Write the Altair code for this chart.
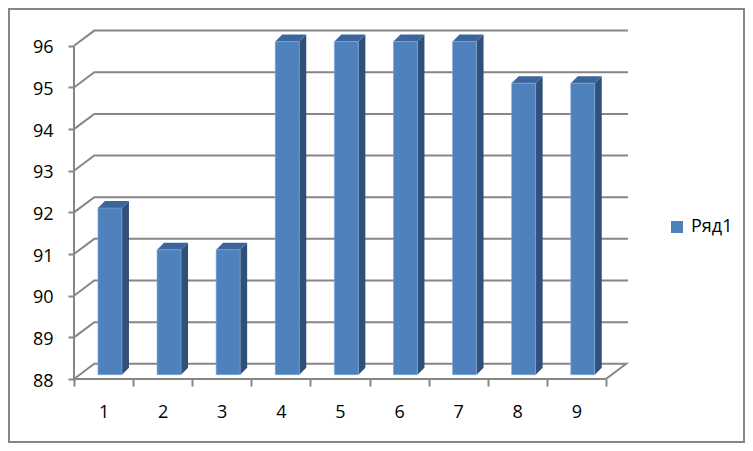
import altair as alt
import pandas as pd

categories = [1, 2, 3, 4, 5, 6, 7, 8, 9]
values = [92, 91, 91, 96, 96, 96, 96, 95, 95]
y_ticks = [88, 89, 90, 91, 92, 93, 94, 95, 96]
series_name = "Ряд1"

BLUE, SIDE, TOP, GREY = "#4F81BD", "#2F5079", "#3B659B", "#868686"
FONT = "Open Sans"

# pixel-per-unit geometry of the pseudo 3-D projection
PX, PY = 59.1, 41.65
W, H = 554, 349
x0, y0 = 0.5, 88
xn = 9.5
xdom = [x0, x0 + W / PX]
ydom = [y0, y0 + H / PY]
DXB, DYB = 20.3 / PX, 15.2 / PY      # back wall depth
OX, OY = 6.4 / PX, 4.3 / PY          # bar front offset from the axis plane
HALF = 12 / PX                       # half bar width
SX, SY = 7 / PX, 7 / PY              # bar depth

xs = alt.Scale(domain=xdom, nice=False, zero=False)
ys = alt.Scale(domain=ydom, nice=False, zero=False)

grid = []
for v in y_ticks[1:]:
    for order, (x, y) in enumerate([(x0, v), (x0 + DXB, v + DYB), (xdom[1], v + DYB)]):
        grid.append(dict(path=f"g{v}", o=order, x=x, y=y))
floor = [(x0, y0), (x0 + DXB, y0 + DYB), (xn + DXB, y0 + DYB), (xn, y0), (x0, y0)]
for order, (x, y) in enumerate(floor):
    grid.append(dict(path="floor", o=order, x=x, y=y))
for order, (x, y) in enumerate([(x0, y0), (x0, y_ticks[-1])]):
    grid.append(dict(path="wall", o=order, x=x, y=y))
grid = pd.DataFrame(grid)

front, side, top = [], [], []
for c, v in zip(categories, values):
    l, r = c + OX - HALF, c + OX + HALF
    b, t = y0 + OY, v + OY
    front.append(dict(x=l, x2=r, y=b, y2=t, s=series_name))
    side += [dict(c=c, x=r, y=t, y2=b), dict(c=c, x=r + SX, y=t + SY, y2=b + SY)]
    top += [dict(c=c, y=t, x=l, x2=r), dict(c=c, y=t + SY, x=l + SX, x2=r + SX)]
front, side, top = map(pd.DataFrame, (front, side, top))

y_axis = alt.Axis(values=y_ticks, domain=False, grid=False, title=None, tickSize=6,
                  tickColor=GREY, tickWidth=2, labelFont=FONT, labelFontSize=18,
                  labelColor="black", labelPadding=15, labelOffset=2, format="d")
x_ticks_axis = alt.Axis(values=[i + 0.5 for i in range(10)], domain=False, grid=False, title=None,
                        orient="bottom", labels=False, tickSize=7, tickColor=GREY, tickWidth=2)
x_label_axis = alt.Axis(values=categories, domain=False, grid=False, title=None, ticks=False,
                        orient="bottom", labelFont=FONT, labelFontSize=18, labelColor="black",
                        labelPadding=24, format="d")

lines = alt.Chart(grid).mark_line(color=GREY, strokeWidth=2, strokeJoin="miter").encode(
    x=alt.X("x:Q", scale=xs, axis=x_ticks_axis),
    y=alt.Y("y:Q", scale=ys, axis=y_axis),
    detail="path:N", order="o:Q")

side_l = alt.Chart(side).mark_area(color=SIDE, opacity=1).encode(
    x=alt.X("x:Q", scale=xs, axis=None),
    y=alt.Y("y:Q", scale=ys, axis=y_axis), y2="y2:Q", detail="c:N")

top_l = alt.Chart(top).mark_area(color=TOP, orient="horizontal", opacity=1).encode(
    y=alt.Y("y:Q", scale=ys, axis=y_axis),
    x=alt.X("x:Q", scale=xs, axis=None), x2="x2:Q", detail="c:N")

front_l = alt.Chart(front).mark_rect(stroke="#7FA8DA", strokeWidth=0.6).encode(
    x=alt.X("x:Q", scale=xs, axis=x_label_axis), x2="x2:Q",
    y=alt.Y("y:Q", scale=ys, axis=y_axis), y2="y2:Q",
    fill=alt.Fill("s:N", scale=alt.Scale(domain=[series_name], range=[BLUE]),
                  legend=alt.Legend(title=None, orient="none", legendX=594, legendY=188,
                                    padding=0, symbolType="square", symbolSize=144,
                                    symbolStrokeWidth=0, labelFont=FONT, labelFontSize=18,
                                    labelColor="black", labelOffset=5)))

frame = alt.Chart(alt.Data(values=[{"a": 1}])).mark_rect(
    fill="transparent", stroke=GREY, strokeWidth=2).encode(
    x=alt.value(-65), x2=alt.value(670), y=alt.value(-21), y2=alt.value(412))

chart = alt.layer(lines, side_l, top_l, front_l, frame).resolve_axis(x="independent").properties(
    width=W, height=H, background="white",
    autosize=alt.AutoSizeParams(type="none"),
    padding={"left": 66, "top": 22, "right": 117, "bottom": 64},
).configure_view(stroke=None)

chart.save("out.html", embed_options={"renderer": "svg", "actions": False})
